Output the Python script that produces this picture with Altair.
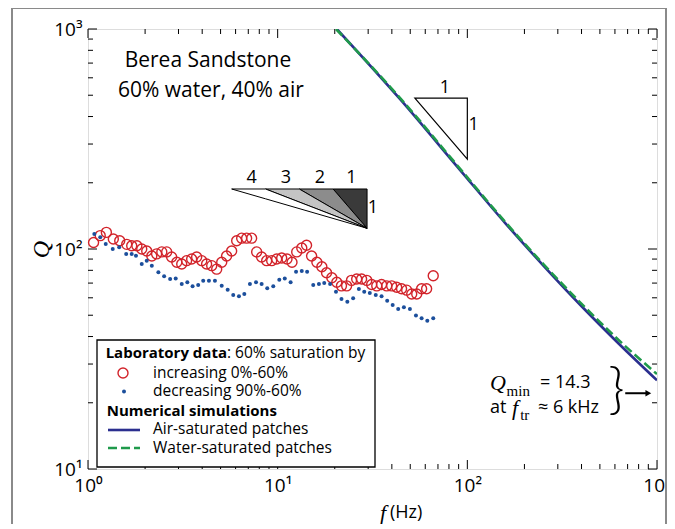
import altair as alt
import pandas as pd

# ---------------- data ----------------
inc_f = [1.07, 1.16, 1.25, 1.36, 1.47, 1.60, 1.70, 1.81, 1.92, 2.04, 2.17, 2.30, 2.45, 2.60,
         2.76, 2.94, 3.12, 3.31, 3.52, 3.74, 3.98, 4.22, 4.49, 4.77, 5.07, 5.38, 5.72, 6.08,
         6.46, 6.86, 7.29, 7.75, 8.23, 8.75, 9.30, 9.88, 10.5, 11.2, 11.9, 12.6, 13.4, 14.2,
         15.1, 16.1, 17.1, 18.1, 19.3, 20.5, 21.7, 23.1, 24.5, 26.1, 27.7, 29.5, 31.3, 33.3,
         35.3, 37.6, 39.9, 42.4, 45.0, 47.9, 50.9, 54.1, 57.4, 61.0, 66.1]
inc_Q = [107, 115, 119, 111, 109, 105, 103.5, 103.5, 100, 98, 93, 95, 97, 97, 92, 87, 85.5,
         88.5, 90, 92, 88.5, 85.5, 84, 81, 87, 93, 98, 109, 112, 112, 112, 97, 92, 88.5, 88.5,
         90, 91, 90, 87, 97, 101, 104, 93, 87, 83, 78, 74, 70.6, 68, 68, 72, 73, 73, 72, 69,
         68, 69, 68, 68, 67, 66, 65, 62.4, 62.4, 66, 66, 75.6]

dec_f = [1.08, 1.16, 1.24, 1.35, 1.46, 1.59, 1.70, 1.79, 1.92, 2.04, 2.17, 2.35, 2.52, 2.71,
         2.90, 3.12, 3.34, 3.56, 3.81, 4.05, 4.34, 4.67, 5.07, 5.45, 5.83, 6.25, 6.67, 7.14,
         7.69, 8.23, 8.81, 9.48, 10.2, 10.9, 11.7, 12.5, 13.4, 14.3, 15.4, 16.5, 17.6, 18.9,
         20.3, 21.7, 23.3, 25.0, 26.8, 28.6, 30.6, 32.9, 35.3, 37.8, 40.4, 43.2, 46.3, 49.8,
         53.6, 57.4, 61.5, 66.1]
dec_Q = [117, 113, 105.4, 100, 101.8, 94.9, 94.9, 93.2, 85.5, 88.4, 84.0, 78.4, 75.1, 73.0,
         73.5, 69.3, 70.6, 67.7, 68.6, 71.8, 71.8, 71.8, 68.1, 65.3, 61.8, 61.0, 62.4, 69.3,
         70.6, 69.3, 66.3, 67.7, 72.5, 73.5, 70.6, 78.9, 79.4, 78.9, 68.6, 69.3, 70.0, 69.3,
         64.0, 59.3, 57.6, 59.7, 65.8, 64.0, 63.1, 61.8, 61.0, 58.2, 55.7, 53.4, 54.3, 53.4,
         49.8, 48.4, 47.2, 48.4]

air_f = [20.5, 44.1, 91.4, 158, 251, 398, 631, 1000]
air_Q = [1000, 481, 229, 131.5, 84.3, 55.2, 37.0, 25.3]
water_f = [20.3, 44.1, 91.4, 158, 251, 398, 631, 1000]
water_Q = [1000, 487, 232, 133, 85.6, 56.6, 38.4, 27.0]

# slope triangles
tri1_f = [52.9, 100]
tri1_Q = [485, 256]
fan_f = [5.72, 8.63, 13.0, 19.6, 29.6]      # left ends of slopes 4,3,2,1 and vertex
fan_top = 187.4
fan_vertex_Q = 124.2
fan_mid_Q = {2: 152.6, 3: 163.4, 4: 169.1}
fan_labels = ["4", "3", "2", "1"]
fan_label_f = [7.29, 11.06, 16.7, 24.5]

xmajor = [1, 10, 100, 1000]
xminor = [2, 3, 4, 5, 6, 7, 8, 9, 20, 30, 40, 50, 60, 70, 80, 90,
          200, 300, 400, 500, 600, 700, 800, 900]
ymajor = [10, 100, 1000]
yminor = [20, 30, 40, 50, 60, 70, 80, 90, 200, 300, 400, 500, 600, 700, 800, 900]

# ---------------- styling ----------------
W, H = 569, 440
SANS = "Open Sans"
SERIF = "Liberation Serif"
RED = "#d2232a"
DOT = "#1c4f9c"
NAVY = "#2b2f8f"
GREEN = "#1f9a4b"

xs = alt.Scale(type="log", domain=[1, 1000], nice=False)
ys = alt.Scale(type="log", domain=[10, 1000], nice=False)
xaxis = alt.Axis(values=xmajor, ticks=False, domain=False, grid=False, title=None,
                 labelExpr="datum.value == 1 ? '10⁰' : datum.value == 10 ? '10¹' : datum.value == 100 ? '10²' : '10³'",
                 labelFont=SANS, labelFontSize=19, labelColor="black", labelPadding=7,
                 labelFlush=False, labelOverlap=False)
yaxis = alt.Axis(values=ymajor, ticks=False, domain=False, grid=False, title="Q",
                 labelExpr="datum.value == 10 ? '10¹' : datum.value == 100 ? '10²' : '10³'",
                 labelFont=SANS, labelFontSize=19, labelColor="black", labelPadding=6,
                 labelFlush=False, labelOverlap=False,
                 titleFont=SERIF, titleFontStyle="italic", titleFontWeight="normal",
                 titleFontSize=24, titleColor="black", titlePadding=0)


def X(field="f"):
    return alt.X(f"{field}:Q", scale=xs, axis=xaxis)


def Y(field="Q"):
    return alt.Y(f"{field}:Q", scale=ys, axis=yaxis, stack=None)


def one(text=""):
    return pd.DataFrame({"t": [text]})


def ptext(text, px, py, size=15.5, font=SANS, weight="normal", style="normal", align="left"):
    return alt.Chart(one(text)).mark_text(
        font=font, fontSize=size, fontWeight=weight, fontStyle=style, align=align,
        baseline="middle", color="black"
    ).encode(x=alt.value(px), y=alt.value(py), text="t:N")


def dtext(text, f, q, size=18, font=SANS, style="normal", align="center", weight="normal"):
    return alt.Chart(pd.DataFrame({"f": [f], "Q": [q], "t": [text]})).mark_text(
        font=font, fontSize=size, fontStyle=style, fontWeight=weight, align=align,
        baseline="middle", color="black"
    ).encode(x=X(), y=Y(), text="t:N")


layers = []

# ticks (inward, on all four sides)
for vals, ln in [(xmajor, 9), (xminor, 5)]:
    d = pd.DataFrame({"f": vals})
    layers.append(alt.Chart(d).mark_rule(color="black", strokeWidth=1).encode(
        x=X(), y=alt.value(H), y2=alt.value(H - ln)))
    layers.append(alt.Chart(d).mark_rule(color="black", strokeWidth=1).encode(
        x=X(), y=alt.value(0), y2=alt.value(ln)))
for vals, ln in [(ymajor, 9), (yminor, 5)]:
    d = pd.DataFrame({"Q": vals})
    layers.append(alt.Chart(d).mark_rule(color="black", strokeWidth=1).encode(
        y=Y(), x=alt.value(0), x2=alt.value(ln)))
    layers.append(alt.Chart(d).mark_rule(color="black", strokeWidth=1).encode(
        y=Y(), x=alt.value(W), x2=alt.value(W - ln)))

# fan of slope triangles (4,3,2,1)
rows = []
rows += [dict(r=1, f=fan_f[3], Q=fan_top, Q2=fan_top), dict(r=1, f=fan_f[4], Q=fan_vertex_Q, Q2=fan_top)]
for n, i in [(2, 2), (3, 1), (4, 0)]:
    rows += [dict(r=n, f=fan_f[i], Q=fan_top, Q2=fan_top),
             dict(r=n, f=fan_f[i + 1], Q=fan_mid_Q[n], Q2=fan_top),
             dict(r=n, f=fan_f[4], Q=fan_vertex_Q, Q2=fan_vertex_Q)]
fan = pd.DataFrame(rows)
layers.append(alt.Chart(fan).mark_area(stroke="black", strokeWidth=1, orient="vertical", opacity=1).encode(
    x=X(), y=Y(), y2="Q2:Q",
    color=alt.Color("r:N", scale=alt.Scale(domain=[1, 2, 3, 4],
                                           range=["#3a3a3a", "#8c8c8c", "#c4c4c4", "#ffffff"]),
                    legend=None)))
for lab, f in zip(fan_labels, fan_label_f):
    layers.append(dtext(lab, f, 210, size=18))
layers.append(dtext("1", 31.8, 153.5, size=18))

# 1:1 triangle
tri = pd.DataFrame({"f": tri1_f, "Q": tri1_Q, "Q2": [tri1_Q[0], tri1_Q[0]]})
layers.append(alt.Chart(tri).mark_area(fill="white", stroke="black", strokeWidth=1.2, orient="vertical").encode(
    x=X(), y=Y(), y2="Q2:Q"))
layers.append(dtext("1", 76.2, 540, size=18))
layers.append(dtext("1", 108, 366, size=18))

# simulations
layers.append(alt.Chart(pd.DataFrame({"f": air_f, "Q": air_Q})).mark_line(
    color=NAVY, strokeWidth=2.6, clip=True, interpolate="monotone").encode(x=X(), y=Y()))
layers.append(alt.Chart(pd.DataFrame({"f": water_f, "Q": water_Q})).mark_line(
    color=GREEN, strokeWidth=2.6, strokeDash=[9, 4], clip=True, interpolate="monotone").encode(x=X(), y=Y()))

# laboratory data
layers.append(alt.Chart(pd.DataFrame({"f": inc_f, "Q": inc_Q})).mark_point(
    shape="circle", filled=False, color=RED, size=100, strokeWidth=1.4, opacity=1).encode(x=X(), y=Y()))
layers.append(alt.Chart(pd.DataFrame({"f": dec_f, "Q": dec_Q})).mark_point(
    shape="circle", filled=True, color=DOT, size=16, opacity=1).encode(x=X(), y=Y()))

# annotations in the plot
layers.append(dtext("Berea Sandstone", 4.29, 715, size=21))
layers.append(dtext("60% water, 40% air", 4.45, 523, size=21))

layers.append(dtext("Q", 131.6, 24.6, size=22, font=SERIF, style="italic", align="left"))
layers.append(dtext("min", 161, 22.6, size=15, font=SERIF, align="left"))
layers.append(dtext("= 14.3", 241.4, 24.6, size=18, align="left"))
layers.append(dtext("at", 131.6, 18.9, size=18, align="left"))
layers.append(dtext("f", 172, 18.9, size=22, font=SERIF, style="italic", align="left"))
layers.append(dtext("tr", 190, 17.6, size=15, font=SERIF, align="left"))
layers.append(dtext("≈ 6 kHz", 235.6, 18.9, size=18, align="left"))
layers.append(dtext("}", 612, 22.6, size=56, font="Lato", weight=300))
layers.append(alt.Chart(pd.DataFrame({"f": [680], "f2": [885], "Q": [22.1]})).mark_rule(
    color="black", strokeWidth=2).encode(x=X(), x2="f2:Q", y=Y()))
layers.append(alt.Chart(pd.DataFrame({"f": [900], "Q": [22.1]})).mark_point(
    shape="triangle-right", filled=True, color="black", size=45, opacity=1).encode(x=X(), y=Y()))

# legend (box in the lower left of the plot)
layers.append(alt.Chart(one()).mark_rect(fill="white", stroke="black", strokeWidth=1.3).encode(
    x=alt.value(9), x2=alt.value(287), y=alt.value(311), y2=alt.value(438)))
layers.append(ptext("Laboratory data", 139, 324, size=15, weight="bold", align="right"))
layers.append(ptext(": 60% saturation by", 139, 324))
layers.append(alt.Chart(one()).mark_point(shape="circle", filled=False, color=RED, size=100,
                                          strokeWidth=1.4, opacity=1).encode(
    x=alt.value(35), y=alt.value(344)))
layers.append(ptext("increasing 0%-60%", 65, 344))
layers.append(alt.Chart(one()).mark_point(shape="circle", filled=True, color=DOT, size=16,
                                          opacity=1).encode(
    x=alt.value(36), y=alt.value(362.5)))
layers.append(ptext("decreasing 90%-60%", 65, 362))
layers.append(ptext("Numerical simulations", 18.7, 382, size=15, weight="bold"))
layers.append(alt.Chart(one()).mark_rule(color=NAVY, strokeWidth=2.6).encode(
    x=alt.value(20), x2=alt.value(52), y=alt.value(401)))
layers.append(ptext("Air-saturated patches", 65, 400))
layers.append(alt.Chart(one()).mark_rule(color=GREEN, strokeWidth=2.6, strokeDash=[9, 4]).encode(
    x=alt.value(20), x2=alt.value(52), y=alt.value(419)))
layers.append(ptext("Water-saturated patches", 65, 419))

# x-axis title
layers.append(ptext("f", 292, 484, size=22, font=SERIF, style="italic"))
layers.append(ptext("(Hz)", 302, 484, size=18))

# outer grey frame
for enc in [dict(x=alt.value(-76), y=alt.value(-21), y2=alt.value(500)),
            dict(x=alt.value(-76), x2=alt.value(578), y=alt.value(-21)),
            dict(x=alt.value(578), y=alt.value(-21), y2=alt.value(500))]:
    layers.append(alt.Chart(one()).mark_rule(color="#8a8a8a", strokeWidth=2).encode(**enc))

chart = alt.layer(*layers).properties(
    width=W, height=H,
    autosize=alt.AutoSizeParams(type="none"),
    padding={"left": 80, "top": 21, "right": 10, "bottom": 55},
).configure_view(stroke="black", strokeWidth=1.5).configure(background="white")

chart.save("out.html", embed_options={"renderer": "svg", "actions": False})
